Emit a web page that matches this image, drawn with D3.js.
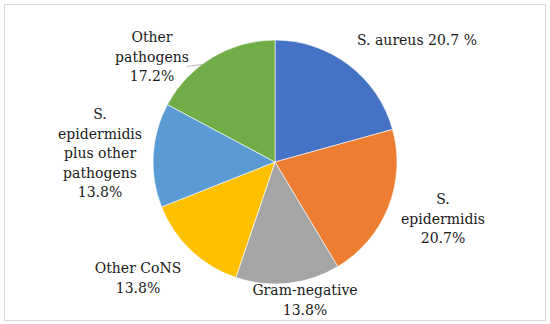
<!DOCTYPE html>
<html>
<head>
<meta charset="utf-8">
<script src="https://cdn.jsdelivr.net/npm/d3@7"></script>
<style>
  body { margin: 0; background: #fff; }
</style>
</head>
<body>
<script>
// Data
const categories = ["S. aureus", "S. epidermidis", "Gram-negative", "Other CoNS",
                    "S. epidermidis plus other pathogens", "Other pathogens"];
const percents = [20.7, 20.7, 13.8, 13.8, 13.8, 17.2];
// label text as printed, one entry per line
const labelLines = [
  ["S. aureus 20.7 %"],
  ["S.", "epidermidis", "20.7%"],
  ["Gram-negative", "13.8%"],
  ["Other CoNS", "13.8%"],
  ["S.", "epidermidis", "plus other", "pathogens", "13.8%"],
  ["Other", "pathogens", "17.2%"]
];
const colors = ["#4472C4", "#ED7D31", "#A5A5A5", "#FFC000", "#5B9BD5", "#70AD47"];

const width = 550, height = 324;
const cx = 275, cy = 162, radius = 122;
const font = "'DejaVu Serif', serif";

// where each label block sits (center x, first baseline y), relative to the pie center
const labelPos = [
  {dx: 142, dy: -117},
  {dx: 168, dy: 42},
  {dx: 30, dy: 133},
  {dx: -137, dy: 111},
  {dx: -175, dy: -43},
  {dx: -123, dy: -120}
];
const lineGap = 19.5;

const svg = d3.select("body").append("svg")
  .attr("width", width)
  .attr("height", height);

// light frame round the chart
svg.append("rect")
  .attr("x", 4.5).attr("y", 4.5)
  .attr("width", 541).attr("height", 316)
  .attr("fill", "none")
  .attr("stroke", "#d9d9d9")
  .attr("stroke-width", 1);

const pie = d3.pie().sort(null).value(d => d);
const arc = d3.arc().innerRadius(0).outerRadius(radius);
const arcs = pie(percents);

const g = svg.append("g").attr("transform", `translate(${cx},${cy})`);

g.selectAll("path.slice")
  .data(arcs)
  .join("path")
  .attr("class", "slice")
  .attr("d", arc)
  .attr("fill", (d, i) => colors[i])
  .attr("stroke", "#ffffff")
  .attr("stroke-width", 0.6);

// labels
const labels = g.selectAll("text.lbl")
  .data(arcs)
  .join("text")
  .attr("class", "lbl")
  .attr("text-anchor", "middle")
  .attr("font-family", font)
  .attr("font-size", 14)
  .attr("fill", "#1a1a1a");

labels.each(function(d, i) {
  const t = d3.select(this);
  labelLines[i].forEach((line, k) => {
    t.append("tspan")
      .attr("x", labelPos[i].dx)
      .attr("y", labelPos[i].dy + k * lineGap)
      .text(line);
  });
});

// leader line for "Other pathogens": from the label to the pie edge
const last = arcs.length - 1;
const ly = labelPos[last].dy + lineGap + 3;
const edgeX = -Math.sqrt(radius * radius - ly * ly);
g.append("path")
  .attr("d", d3.line()([[labelPos[last].dx + 35, ly + 2], [edgeX, ly]]))
  .attr("fill", "none")
  .attr("stroke", "#a6a6a6")
  .attr("stroke-width", 0.8);
</script>
</body>
</html>
